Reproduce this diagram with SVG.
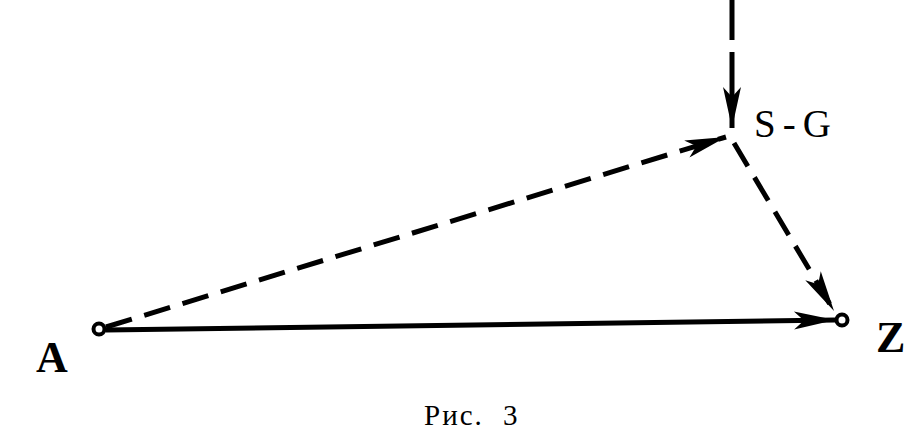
<svg xmlns="http://www.w3.org/2000/svg" width="922" height="437" viewBox="0 0 922 437">
<defs>
<marker id="ah" markerUnits="userSpaceOnUse" markerWidth="50" markerHeight="26" refX="44" refY="13" orient="auto" viewBox="0 0 50 26">
<path d="M44,13 L3,4 L13,13 L3,22 Z" fill="#000"/>
</marker>
<style>
.e{stroke:#000;stroke-width:5;fill:none}
.d{stroke-dasharray:27 13}
.t{font-family:"Liberation Serif","DejaVu Serif",serif;fill:#000}
</style>
</defs>
<rect width="922" height="437" fill="#fff"/>
<g id="connectors">
<path class="e" d="M732,0 L732,40 M732,52 L732,128" marker-end="url(#ah)"/>
<path class="e d" d="M106,327 L726,137" marker-end="url(#ah)"/>
<path class="e d" d="M734,143 L834,311" marker-end="url(#ah)"/>
<path class="e" d="M106,330 L835,320" marker-end="url(#ah)"/>
</g>
<g id="A">
<circle cx="99" cy="329" r="5.5" fill="#fff" stroke="#000" stroke-width="4"/>
<text class="t" x="36" y="372" font-size="44" font-weight="bold">A</text>
</g>
<g id="SG">
<text class="t" x="754" y="137" font-size="39" letter-spacing="7">S-G</text>
</g>
<g id="Z">
<circle cx="842" cy="320" r="5.5" fill="#fff" stroke="#000" stroke-width="4"/>
<text class="t" x="876" y="352" font-size="44" font-weight="bold">Z</text>
</g>
<text class="t" x="424" y="425" font-size="29" letter-spacing="2" word-spacing="10">Рис. 3</text>
</svg>
